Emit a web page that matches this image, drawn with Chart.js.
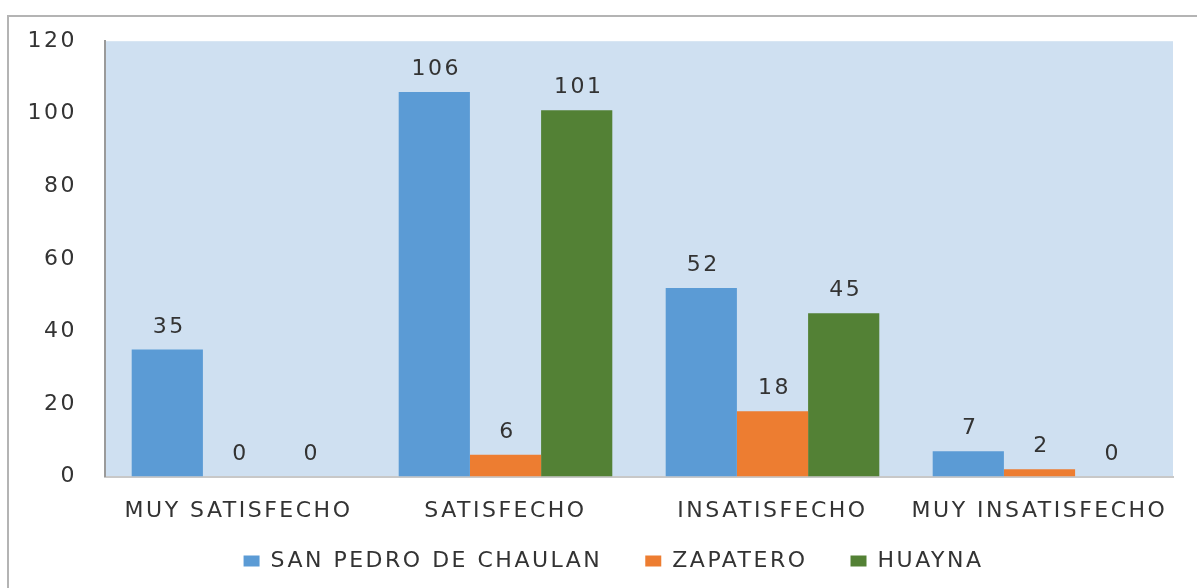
<!DOCTYPE html>
<html>
<head>
<meta charset="utf-8">
<script src="https://cdn.jsdelivr.net/npm/chart.js@4.4.1/dist/chart.umd.min.js"></script>
<style>
  html, body { margin: 0; padding: 0; background: #fff; }
  #wrap { position: relative; width: 1197px; height: 588px; overflow: hidden; }
  #frame { position: absolute; left: 7px; top: 15px; width: 1300px; height: 700px;
           border-top: 2px solid #b4b4b4; border-left: 2px solid #b4b4b4; }
  canvas { position: absolute; left: 0; top: 0; }
</style>
</head>
<body>
<div id="wrap">
  <div id="frame"></div>
  <canvas id="chart" width="1197" height="588"></canvas>
</div>
<script>
const categorias = ['MUY SATISFECHO', 'SATISFECHO', 'INSATISFECHO', 'MUY INSATISFECHO'];
const sanPedro = [35, 106, 52, 7];
const zapatero = [0, 6, 18, 2];
const huayna = [0, 101, 45, 0];
const yTicks = [0, 20, 40, 60, 80, 100, 120];

const FONT = { family: 'DejaVu Sans', size: 22 };
const TEXT = '#333333';

// letter spacing to imitate the stretched text of the original
function spacing(chart) {
  chart.ctx.letterSpacing = '2.5px';
}

const fondo = {
  id: 'fondo',
  beforeUpdate: spacing,
  afterLayout(chart) {
    // legend is centred on the frame, not on the plot
    chart.legend.left += 44;
  },
  beforeDraw(chart) {
    spacing(chart);
    const { ctx, chartArea: a } = chart;
    ctx.save();
    ctx.fillStyle = '#cfe0f1';
    ctx.fillRect(a.left, a.top, a.right - a.left, a.bottom - a.top);
    ctx.restore();
  },
};

const etiquetas = {
  id: 'etiquetas',
  afterDatasetsDraw(chart) {
    const { ctx } = chart;
    ctx.save();
    ctx.font = `${FONT.size}px ${FONT.family}`;
    ctx.fillStyle = TEXT;
    ctx.textAlign = 'center';
    ctx.textBaseline = 'alphabetic';
    chart.data.datasets.forEach((ds, i) => {
      chart.getDatasetMeta(i).data.forEach((bar, j) => {
        ctx.fillText(String(ds.data[j]), bar.x + 2, bar.y - 17);
      });
    });
    ctx.restore();
  },
};

new Chart(document.getElementById('chart'), {
  type: 'bar',
  data: {
    labels: categorias,
    datasets: [
      { label: 'SAN PEDRO DE CHAULAN', data: sanPedro, backgroundColor: '#5b9bd5' },
      { label: 'ZAPATERO', data: zapatero, backgroundColor: '#ed7d31' },
      { label: 'HUAYNA', data: huayna, backgroundColor: '#538135' },
    ],
  },
  options: {
    responsive: false,
    animation: false,
    devicePixelRatio: 1,
    categoryPercentage: 0.8,
    barPercentage: 1.0,
    layout: { padding: { left: 10, right: 24, top: 40, bottom: 6 } },
    plugins: {
      legend: {
        position: 'bottom',
        labels: {
          boxWidth: 16,
          boxHeight: 11,
          padding: 5,
          color: TEXT,
          font: FONT,
          generateLabels(chart) {
            const items = Chart.defaults.plugins.legend.labels.generateLabels(chart);
            items.forEach((it, i) => {
              if (i < items.length - 1) it.text += '\u00a0\u00a0\u00a0\u00a0';
            });
            return items;
          },
        },
      },
      tooltip: { enabled: false },
    },
    scales: {
      x: {
        grid: { display: false, drawTicks: false },
        border: { color: '#c8c8c8', width: 2 },
        ticks: { color: TEXT, font: FONT, padding: 21, maxRotation: 0 },
      },
      y: {
        min: 0,
        max: 120,
        afterBuildTicks(scale) {
          scale.ticks = yTicks.map((v) => ({ value: v }));
        },
        afterFit(scale) {
          scale.width = 95;
        },
        grid: { display: false, drawTicks: false },
        border: { color: '#9a9a9a', width: 2 },
        ticks: { color: TEXT, font: FONT, padding: 28 },
      },
    },
  },
  plugins: [fondo, etiquetas],
});
</script>
</body>
</html>
